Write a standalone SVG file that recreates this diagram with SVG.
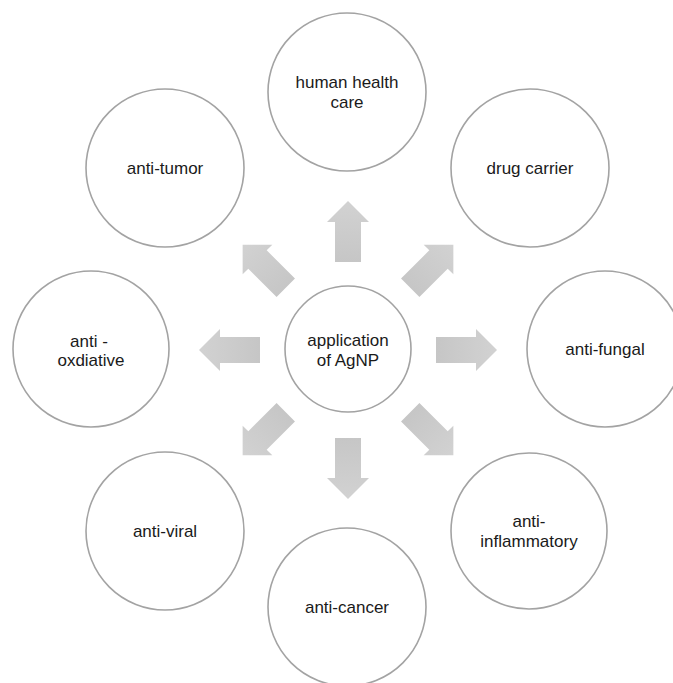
<svg xmlns="http://www.w3.org/2000/svg" width="673" height="683" viewBox="0 0 673 683">
  <defs>
    <style>
      .node circle { fill: #ffffff; stroke: #a3a3a3; stroke-width: 1.6; }
      .node text { font-family: "Liberation Sans", Arial, sans-serif; font-size: 17px; fill: #1a1a1a; text-anchor: middle; }
      .arrow { fill: url(#arrowGrad); }
    </style>
    <linearGradient id="arrowGrad" x1="0" y1="0" x2="1" y2="0">
      <stop offset="0" stop-color="#c6c6c6"/>
      <stop offset="1" stop-color="#d2d2d2"/>
    </linearGradient>
    <path id="arrowShape" d="M88,-13 L128,-13 L128,-21 L149,0 L128,21 L128,13 L88,13 Z"/>
  </defs>
  <rect width="673" height="683" fill="#ffffff"/>

  <g id="connectors">
    <use href="#arrowShape" class="arrow" transform="translate(348,350) rotate(-90)"/>
    <use href="#arrowShape" class="arrow" transform="translate(348,350) rotate(-45)"/>
    <use href="#arrowShape" class="arrow" transform="translate(348,350) rotate(0)"/>
    <use href="#arrowShape" class="arrow" transform="translate(348,350) rotate(45)"/>
    <use href="#arrowShape" class="arrow" transform="translate(348,350) rotate(90)"/>
    <use href="#arrowShape" class="arrow" transform="translate(348,350) rotate(135)"/>
    <use href="#arrowShape" class="arrow" transform="translate(348,350) rotate(180)"/>
    <use href="#arrowShape" class="arrow" transform="translate(348,350) rotate(-135)"/>
  </g>

  <g id="center" class="node">
    <circle cx="348" cy="349" r="63"/>
    <text x="348" y="346">application</text>
    <text x="348" y="366">of AgNP</text>
  </g>

  <g id="human-health-care" class="node">
    <circle cx="347" cy="92" r="79"/>
    <text x="347" y="88">human health</text>
    <text x="347" y="108">care</text>
  </g>

  <g id="drug-carrier" class="node">
    <circle cx="530" cy="168" r="79"/>
    <text x="530" y="174">drug carrier</text>
  </g>

  <g id="anti-fungal" class="node">
    <circle cx="605" cy="349" r="78"/>
    <text x="605" y="355">anti-fungal</text>
  </g>

  <g id="anti-inflammatory" class="node">
    <circle cx="529" cy="531" r="78"/>
    <text x="529" y="527">anti-</text>
    <text x="529" y="547">inflammatory</text>
  </g>

  <g id="anti-cancer" class="node">
    <circle cx="347" cy="607" r="79"/>
    <text x="347" y="613">anti-cancer</text>
  </g>

  <g id="anti-viral" class="node">
    <circle cx="165" cy="531" r="79"/>
    <text x="165" y="537">anti-viral</text>
  </g>

  <g id="anti-oxdiative" class="node">
    <circle cx="91" cy="349" r="78"/>
    <text x="89" y="347">anti -</text>
    <text x="91" y="366">oxdiative</text>
  </g>

  <g id="anti-tumor" class="node">
    <circle cx="165" cy="168" r="79"/>
    <text x="165" y="174">anti-tumor</text>
  </g>
</svg>
